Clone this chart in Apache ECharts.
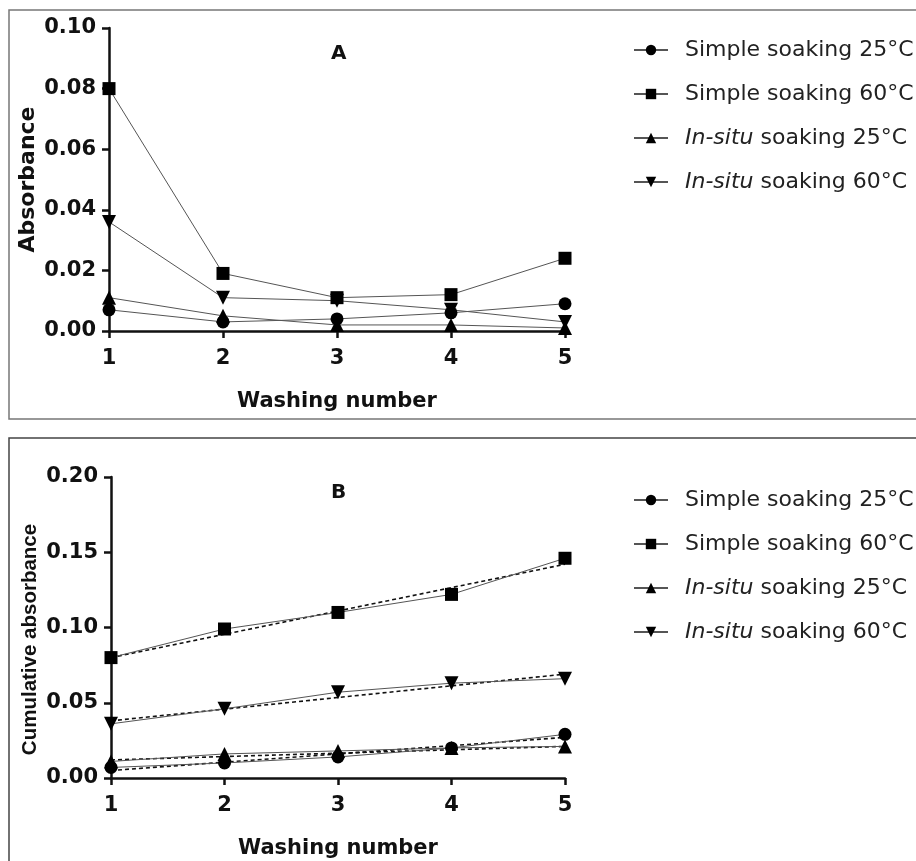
<!DOCTYPE html>
<html>
<head>
<meta charset="utf-8">
<script src="https://cdn.jsdelivr.net/npm/echarts@6/dist/echarts.min.js"></script>
<style>
  html, body { margin: 0; padding: 0; background: #fff; }
  #chart { width: 916px; height: 861px; }
</style>
</head>
<body>
<div id="chart"></div>
<script>
// Washing number (x values)
const washes = [1, 2, 3, 4, 5];

// Panel A: absorbance of each wash
const simple25 = [0.007, 0.003, 0.004, 0.006, 0.009];
const simple60 = [0.080, 0.019, 0.011, 0.012, 0.024];
const insitu25 = [0.011, 0.005, 0.002, 0.002, 0.001];
const insitu60 = [0.036, 0.011, 0.010, 0.007, 0.003];

// Panel B: cumulative absorbance
const cumSimple25 = [0.007, 0.010, 0.014, 0.020, 0.029];
const cumSimple60 = [0.080, 0.099, 0.110, 0.122, 0.146];
const cumInsitu25 = [0.011, 0.016, 0.018, 0.020, 0.021];
const cumInsitu60 = [0.036, 0.046, 0.057, 0.063, 0.066];

// Linear trend lines of panel B (values at wash 1 and wash 5)
const fitX = [1, 5];
const fitSimple25 = [0.005, 0.027];
const fitSimple60 = [0.080, 0.142];
const fitInsitu25 = [0.012, 0.021];
const fitInsitu60 = [0.038, 0.069];

// Axis ticks
const yTicksA = { min: 0, max: 0.10, interval: 0.02 };
const yTicksB = { min: 0, max: 0.20, interval: 0.05 };

const names = [
  'Simple soaking 25°C',
  'Simple soaking 60°C',
  'In-situ soaking 25°C',
  'In-situ soaking 60°C'
];
const symbols = [
  'circle',
  'rect',
  'triangle',
  'path://M0,0 L10,0 L5,9 Z'
];
const symbolSizes = [13, 13, 14, 14];

const FONT = '"DejaVu Sans", sans-serif';
const FONT_NARROW = '"Liberation Sans", Arial, sans-serif';
const pair = (xs, ys) => xs.map((x, i) => [x, ys[i]]);

function xAxisOf(gridIndex) {
  return {
    type: 'value', gridIndex, min: 1, max: 5, interval: 1,
    name: 'Washing number', nameLocation: 'middle', nameGap: 60,
    nameTextStyle: { fontFamily: FONT, fontWeight: 'bold', fontSize: 21, color: '#111' },
    axisLine: { show: true, onZero: false, lineStyle: { color: '#111', width: 2.5 } },
    axisTick: { show: true, length: 7, lineStyle: { color: '#111', width: 2.5 } },
    axisLabel: { fontFamily: FONT, fontWeight: 'bold', fontSize: 21, color: '#111', margin: 17 },
    splitLine: { show: false }
  };
}
function yAxisOf(gridIndex, ticks, title, gap, titleFont, titleSize, shift) {
  return {
    type: 'value', gridIndex, min: ticks.min, max: ticks.max, interval: ticks.interval,
    name: title, nameLocation: 'middle', nameGap: gap,
    nameTextStyle: {
      fontFamily: titleFont, fontWeight: 'bold', fontSize: titleSize, color: '#111',
      padding: [0, shift, 0, 0]
    },
    axisLine: { show: true, lineStyle: { color: '#111', width: 2.5 } },
    axisTick: { show: true, length: 7, lineStyle: { color: '#111', width: 2.5 } },
    axisLabel: {
      fontFamily: FONT, fontWeight: 'bold', fontSize: 21, color: '#111', margin: 13,
      formatter: v => v.toFixed(2)
    },
    splitLine: { show: false }
  };
}

function dataSeries(i, xIdx, ys) {
  return {
    type: 'line', name: names[i], xAxisIndex: xIdx, yAxisIndex: xIdx,
    data: pair(washes, ys),
    symbol: symbols[i], symbolSize: symbolSizes[i],
    lineStyle: { color: '#555', width: 1 },
    itemStyle: { color: '#000' },
    z: 3, animation: false
  };
}
function fitSeries(xIdx, ys) {
  return {
    type: 'line', xAxisIndex: xIdx, yAxisIndex: xIdx,
    data: pair(fitX, ys), showSymbol: false, symbol: 'none',
    lineStyle: { color: '#111', width: 1.6, type: [4, 3] },
    z: 2, animation: false, silent: true
  };
}

function legendAt(top) {
  return {
    orient: 'vertical', left: 628, top,
    itemWidth: 34, itemHeight: 13, itemGap: 22,
    data: names,
    formatter: n => n.startsWith('In-situ') ? '{i|In-situ}' + n.slice(7) : n,
    textStyle: {
      fontFamily: FONT, fontSize: 22, color: '#222', lineHeight: 22,
      padding: [0, 0, 0, 12],
      rich: { i: { fontFamily: FONT, fontSize: 22, fontStyle: 'italic', color: '#222', lineHeight: 22 } }
    },
    selectedMode: false
  };
}

const chart = echarts.init(document.getElementById('chart'), null, { renderer: 'canvas' });
chart.setOption({
  backgroundColor: '#fff',
  animation: false,
  title: [
    { text: 'A', left: 326, top: 39, textStyle: { fontFamily: FONT, fontWeight: 'bold', fontSize: 20, color: '#111' } },
    { text: 'B', left: 326, top: 478, textStyle: { fontFamily: FONT, fontWeight: 'bold', fontSize: 20, color: '#111' } }
  ],
  grid: [
    { left: 109, top: 28, width: 456, height: 303 },
    { left: 111, top: 477, width: 454, height: 301 }
  ],
  xAxis: [xAxisOf(0), xAxisOf(1)],
  yAxis: [
    yAxisOf(0, yTicksA, 'Absorbance', 70, FONT, 22, 0),
    yAxisOf(1, yTicksB, 'Cumulative absorbance', 70, FONT_NARROW, 20.5, 24)
  ],
  legend: [legendAt(34), legendAt(484)],
  graphic: [
    { type: 'rect', shape: { x: 9, y: 10, width: 920, height: 409 }, style: { fill: 'none', stroke: '#777', lineWidth: 1.5 }, silent: true },
    { type: 'rect', shape: { x: 9, y: 438, width: 920, height: 440 }, style: { fill: 'none', stroke: '#444', lineWidth: 1.5 }, silent: true }
  ],
  series: [
    dataSeries(0, 0, simple25),
    dataSeries(1, 0, simple60),
    dataSeries(2, 0, insitu25),
    dataSeries(3, 0, insitu60),
    fitSeries(1, fitSimple25),
    fitSeries(1, fitSimple60),
    fitSeries(1, fitInsitu25),
    fitSeries(1, fitInsitu60),
    dataSeries(0, 1, cumSimple25),
    dataSeries(1, 1, cumSimple60),
    dataSeries(2, 1, cumInsitu25),
    dataSeries(3, 1, cumInsitu60)
  ]
});
</script>
</body>
</html>
